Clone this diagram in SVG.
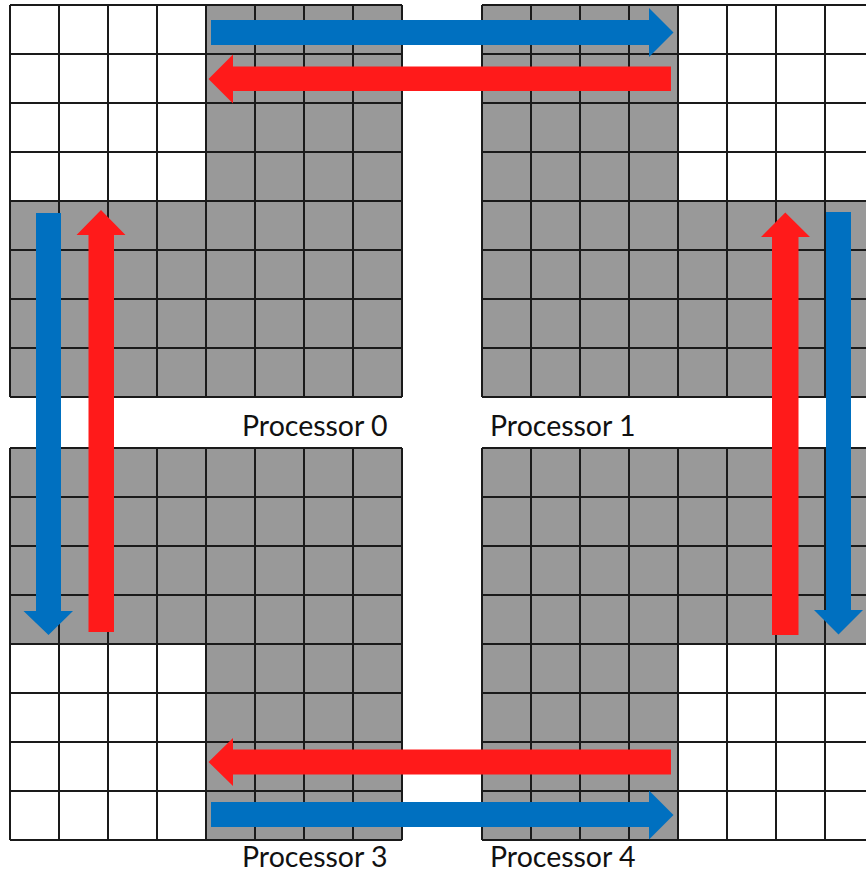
<svg xmlns="http://www.w3.org/2000/svg" width="866" height="873" viewBox="0 0 866 873">
<style>
.bg{fill:#ffffff}
.sh{fill:#999999}
.gl{fill:none;stroke:#1a1a1a;stroke-width:2}
.blue{fill:#0070C0}
.red{fill:#FF1A1A}
.lbl{font-family:"Lato","Open Sans","Liberation Sans",sans-serif;font-size:28.5px;fill:#111}
</style>
<rect width="866" height="873" fill="#ffffff"/>
<g id="proc0">
<rect class="sh" x="206" y="5" width="196" height="392"/>
<rect class="sh" x="10" y="201" width="392" height="196"/>
<path class="gl" d="M10 5V397M59 5V397M108 5V397M157 5V397M206 5V397M255 5V397M304 5V397M353 5V397M402 5V397M10 5H402M10 54H402M10 103H402M10 152H402M10 201H402M10 250H402M10 299H402M10 348H402M10 397H402"/>
<text class="lbl" x="242" y="436">Processor 0</text>
</g>
<g id="proc1">
<rect class="sh" x="482" y="5" width="196" height="392"/>
<rect class="sh" x="482" y="201" width="392" height="196"/>
<path class="gl" d="M482 5V397M531 5V397M580 5V397M629 5V397M678 5V397M727 5V397M776 5V397M825 5V397M482 5H874M482 54H874M482 103H874M482 152H874M482 201H874M482 250H874M482 299H874M482 348H874M482 397H874"/>
<text class="lbl" x="490" y="436">Processor 1</text>
</g>
<g id="proc3">
<rect class="sh" x="206" y="448" width="196" height="392"/>
<rect class="sh" x="10" y="448" width="392" height="196"/>
<path class="gl" d="M10 448V840M59 448V840M108 448V840M157 448V840M206 448V840M255 448V840M304 448V840M353 448V840M402 448V840M10 448H402M10 497H402M10 546H402M10 595H402M10 644H402M10 693H402M10 742H402M10 791H402M10 840H402"/>
<text class="lbl" x="242" y="867">Processor 3</text>
</g>
<g id="proc4">
<rect class="sh" x="482" y="448" width="196" height="392"/>
<rect class="sh" x="482" y="448" width="392" height="196"/>
<path class="gl" d="M482 448V840M531 448V840M580 448V840M629 448V840M678 448V840M727 448V840M776 448V840M825 448V840M482 448H874M482 497H874M482 546H874M482 595H874M482 644H874M482 693H874M482 742H874M482 791H874M482 840H874"/>
<text class="lbl" x="490" y="867">Processor 4</text>
</g>
<g id="connectors">
<path class="blue" d="M211 20H649V8L673.5 32.5L649 57V45H211Z"/>
<path class="red" d="M671 66.5H233V54.5L208.5 79L233 103.5V91H671Z"/>
<path class="blue" d="M36 213V611H23.5L48.5 635L73 611H61V213Z"/>
<path class="red" d="M88.5 632V235H76.5L101 210L125.5 235H114V632Z"/>
<path class="red" d="M772 635V237H761L785.3 212.5L810 237H798.5V635Z"/>
<path class="blue" d="M826 212V610H814L838.5 634.5L863 610H851V212Z"/>
<path class="red" d="M671 749.5H233V738L208.5 762L233 786V774.5H671Z"/>
<path class="blue" d="M211 802H649V790.5L673.5 815L649 839.5V827H211Z"/>
</g>
</svg>
